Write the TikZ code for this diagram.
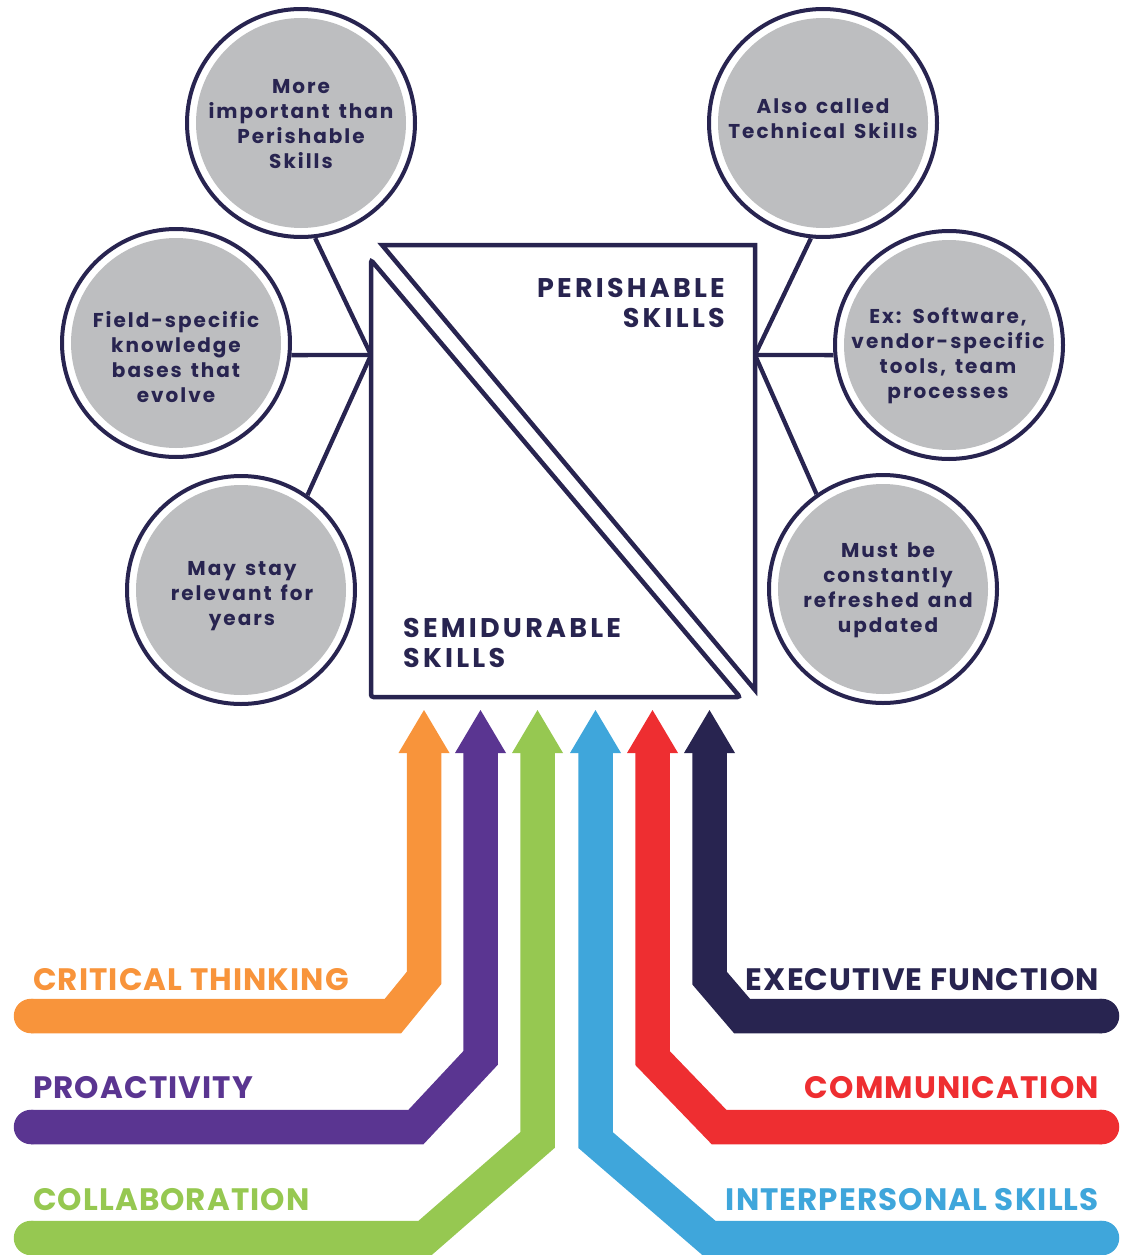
\documentclass[tikz,border=0pt]{standalone}
\usepackage{fontspec}
\setmainfont{Poppins}
\definecolor{navy}{HTML}{282450}
\definecolor{bgray}{HTML}{BDBEC0}
\definecolor{corange}{HTML}{F8943B}
\definecolor{cpurple}{HTML}{5A3591}
\definecolor{cgreen}{HTML}{96C851}
\definecolor{cblue}{HTML}{3FA6DB}
\definecolor{cred}{HTML}{EE2E31}
\newcommand\circfont{\bfseries\fontsize{20}{25}\selectfont\addfontfeatures{LetterSpace=10}\setlength{\spaceskip}{9pt plus 2pt minus 1pt}}
\begin{document}
\begin{tikzpicture}[x=1pt,y=-1pt,
  bubble/.style={circle, draw=navy, line width=4pt, fill=white, minimum size=228pt, inner sep=0pt},
  core/.style={circle, fill=bgray, minimum size=210pt, inner sep=0pt},
  ctext/.style={font={\circfont}, text=navy, align=center, anchor=base, inner sep=0pt},
  btext/.style={font=\bfseries\fontsize{27}{30}\selectfont\addfontfeatures{LetterSpace=12}, text=navy, inner sep=0pt},
  lab/.style={font=\bfseries\fontsize{31}{31}\selectfont\addfontfeatures{LetterSpace=3.5}, inner sep=0pt},
  link/.style={draw=navy, line width=4.3pt},
  boxline/.style={draw=navy, line width=4.5pt},
  band/.style={line width=34.5pt},
  capend/.style={radius=17.25pt},
]
\useasboundingbox (0,0) rectangle (1128,1255);

% hubs
\coordinate (hubL) at (371,355);
\coordinate (hubR) at (755,355);

% circle positions
\coordinate (p1) at (301,123);
\coordinate (p2) at (176,343);
\coordinate (p3) at (241,590);
\coordinate (p4) at (823,123);
\coordinate (p5) at (949,345);
\coordinate (p6) at (883,589);

\node[bubble] (c1) at (p1) {};
\node[bubble] (c2) at (p2) {};
\node[bubble] (c3) at (p3) {};
\node[bubble] (c4) at (p4) {};
\node[bubble] (c5) at (p5) {};
\node[bubble] (c6) at (p6) {};

\draw[link] (c1.-83) -- (hubL);
\draw[link] (c2.-6) -- (hubL);
\draw[link] (c3.55) -- (hubL);
\draw[link] (c4.-96) -- (hubR);
\draw[link] (c5.185) -- (hubR);
\draw[link] (c6.125) -- (hubR);

\node[core] (g1) at (p1) {};
\node[core] (g2) at (p2) {};
\node[core] (g3) at (p3) {};
\node[core] (g4) at (p4) {};
\node[core] (g5) at (p5) {};
\node[core] (g6) at (p6) {};

\node[ctext] (t1) at (301,168) {More\\important than\\Perishable\\Skills};
\node[ctext] (t2) at (176,402) {Field-specific\\knowledge\\bases that\\evolve};
\node[ctext] (t3) at (242,625) {May stay\\relevant for\\years};
\node[ctext] (t4) at (823,138) {Also called\\Technical Skills};
\node[ctext] (t5) at (948,398) {Ex: Software,\\vendor-specific\\tools, team\\processes};
\node[ctext] (t6) at (888,632) {Must be\\constantly\\refreshed and\\updated};

% box triangles
\draw[boxline, rounded corners=2.5pt] (371,260) -- (371,697) -- (740,697) -- cycle;
\draw[boxline] (382,245) -- (755,245) -- (755,690) -- cycle;

\node[btext, align=right, anchor=base east] (per) at (725,327) {PERISHABLE\\SKILLS};
\node[btext, align=left, anchor=base west] (semi) at (403,667) {SEMIDURABLE\\SKILLS};

% bands with arrows
\draw[band, corange] (424,752) -- (424,978) -- (393,1016) -- (31,1016);
\fill[corange] (31,1016) circle[capend];
\fill[corange] (398.5,753) -- (449.5,753) -- (424,710) -- cycle;

\draw[band, cpurple] (480.5,752) -- (480.5,1058) -- (416,1127) -- (31,1127);
\fill[cpurple] (31,1127) circle[capend];
\fill[cpurple] (455,753) -- (506,753) -- (480.5,710) -- cycle;

\draw[band, cgreen] (537.5,752) -- (537.5,1140) -- (425,1238) -- (31,1238);
\fill[cgreen] (31,1238) circle[capend];
\fill[cgreen] (512,753) -- (563,753) -- (537.5,710) -- cycle;

\draw[band, cblue] (595.5,752) -- (595.5,1140) -- (709,1238) -- (1102,1238);
\fill[cblue] (1102,1238) circle[capend];
\fill[cblue] (570,753) -- (621,753) -- (595.5,710) -- cycle;

\draw[band, cred] (652.5,752) -- (652.5,1058) -- (719,1127) -- (1102,1127);
\fill[cred] (1102,1127) circle[capend];
\fill[cred] (627,753) -- (678,753) -- (652.5,710) -- cycle;

\draw[band, navy] (709.5,752) -- (709.5,978) -- (742,1016) -- (1102,1016);
\fill[navy] (1102,1016) circle[capend];
\fill[navy] (684,753) -- (735,753) -- (709.5,710) -- cycle;

% labels
\node[lab, text=corange, anchor=base west] (l1) at (33,990) {CRITICAL THINKING};
\node[lab, text=cpurple, anchor=base west] (l2) at (33,1098) {PROACTIVITY};
\node[lab, text=cgreen, anchor=base west] (l3) at (33,1210) {COLLABORATION};
\node[lab, text=navy, anchor=base east] (l4) at (1099,990) {EXECUTIVE FUNCTION};
\node[lab, text=cred, anchor=base east] (l5) at (1099,1098) {COMMUNICATION};
\node[lab, text=cblue, anchor=base east] (l6) at (1099,1210) {INTERPERSONAL SKILLS};
\end{tikzpicture}
\end{document}
